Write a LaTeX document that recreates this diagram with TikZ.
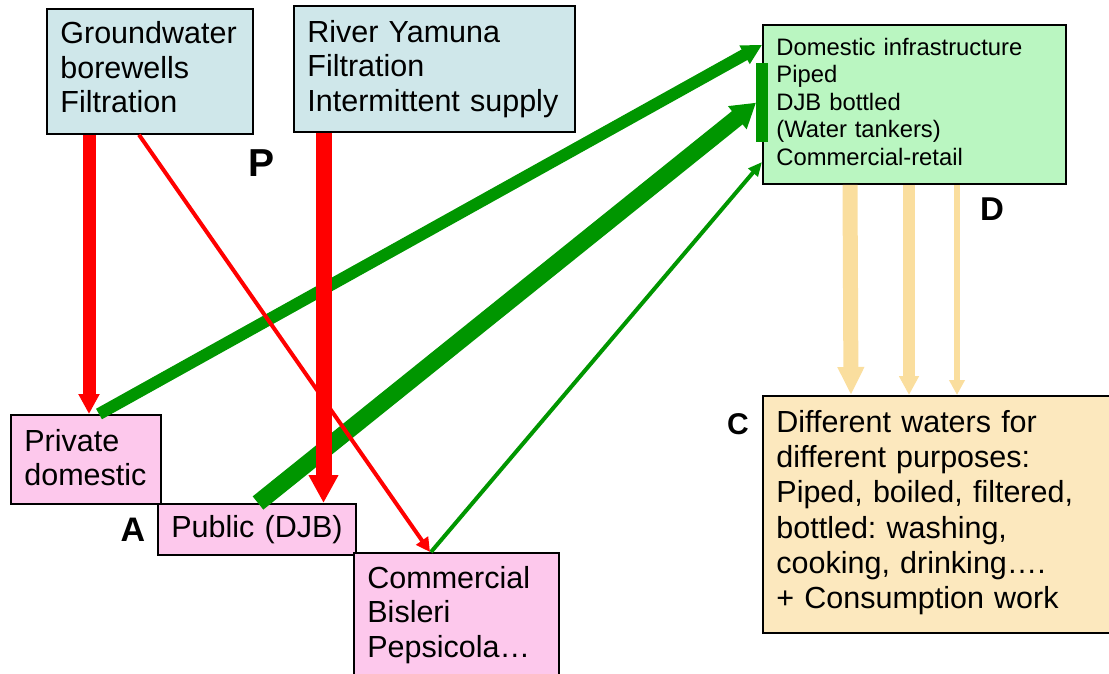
\documentclass[tikz,border=0pt]{standalone}
\usepackage{fontspec}
\setmainfont{Liberation Sans}
\usetikzlibrary{arrows.meta,calc}

\definecolor{srcblue}{RGB}{207,231,234}
\definecolor{distgreen}{RGB}{186,246,193}
\definecolor{agentpink}{RGB}{253,200,236}
\definecolor{usewheat}{RGB}{252,232,190}
\definecolor{flowred}{RGB}{255,0,0}
\definecolor{flowgreen}{RGB}{0,150,0}
\definecolor{flowwheat}{RGB}{250,222,158}

% extra depth under a last line, to lift a text block inside its box
\newcommand\liftby[1]{\rule[-#1]{0pt}{#1}}

\begin{document}
\frenchspacing
\begin{tikzpicture}[x=1pt,y=-1pt,
  box/.style={draw=black,line width=1.8pt,anchor=north west,
    inner xsep=13.5pt,inner ysep=0pt,align=left,
    font=\fontsize{30.5}{34.5}\selectfont},
  letter/.style={font=\bfseries\fontsize{#1}{#1}\selectfont,inner sep=0pt},
  redflow/.style 2 args={draw=flowred,line width=#1,
    -{Triangle[width=#2,length=#2]}},
  greenflow/.style n args={3}{draw=flowgreen,line width=#1,
    -{Triangle[width=#2,length=#3]}},
  wheatflow/.style n args={3}{draw=flowwheat,line width=#1,
    -{Triangle[width=#2,length=#3]}}]
\clip (0,0) rectangle (1109,674);

% sources
\node[box,fill=srcblue,minimum width=206pt,minimum height=125pt,text width=179pt]
  (gw) at (46,8) {Groundwater\\borewells\\Filtration\liftby{8pt}};
\node[box,fill=srcblue,minimum width=281pt,minimum height=126pt,text width=254pt]
  (ry) at (293,5) {River Yamuna\\Filtration\\Intermittent supply};

% distribution
\node[box,fill=distgreen,minimum width=303pt,minimum height=159pt,text width=276pt,
  font=\fontsize{23.8}{27.5}\selectfont]
  (dist) at (762,24) {Domestic infrastructure\\Piped\\DJB bottled\\(Water tankers)\\Commercial-retail\liftby{6pt}};
\node[fill=flowgreen,inner sep=0pt,minimum width=12pt,minimum height=79pt,anchor=north west]
  (bar) at (756,63) {};

% agents
\node[box,fill=agentpink,minimum width=150pt,minimum height=89pt,text width=123pt]
  (priv) at (10,414) {Private\\domestic\liftby{4pt}};
\node[box,fill=agentpink,minimum width=198pt,minimum height=51pt,text width=171pt]
  (pub) at (157,503) {\mbox{Public (DJB)}};
\node[box,fill=agentpink,minimum width=205pt,minimum height=124pt,text width=178pt]
  (comm) at (353,552) {Commercial\\Bisleri\\Pepsicola…};

% consumption
\node[box,fill=usewheat,minimum width=358pt,minimum height=237pt,text width=331pt,
  font=\fontsize{30.5}{35.3}\selectfont]
  (cons) at (762,395) {Different waters for\\different purposes:\\Piped, boiled, filtered,\\bottled: washing,\\cooking, drinking….\\+ Consumption work\liftby{10pt}};

% letters
\node[letter=39] (lP) at (262,163) {P};
\node[letter=33] (lD) at (992,209) {D};
\node[letter=30] (lC) at (738,424) {C};
\node[letter=34] (lA) at (133,530) {A};

% green flows into distribution
\draw[greenflow={12pt}{20pt}{20pt}] ([xshift=89]priv.north west) -- ([yshift=-21]dist.north west);
\draw[greenflow={17pt}{28pt}{24pt}] ([xshift=101]pub.north west) -- (bar.west);
\draw[greenflow={4pt}{12pt}{14pt}] ([xshift=78]comm.north west) -- ([yshift=-138]dist.north west);

% red flows from sources
\draw[redflow={13pt}{20pt}] ([xshift=43]gw.south west) -- ([xshift=79]priv.north west);
\draw[redflow={16pt}{28pt}] ([xshift=30.5]ry.south west) -- ([xshift=166.5]pub.north west);
\draw[redflow={4pt}{14pt}] ([xshift=93]gw.south west) -- ([xshift=77]comm.north west);

% distribution to consumption
\draw[wheatflow={15pt}{25pt}{28pt}] ([xshift=88]dist.south west) -- ([xshift=89]cons.north west);
\draw[wheatflow={12pt}{19pt}{19pt}] ([xshift=147]dist.south west) -- ([xshift=147]cons.north west);
\draw[wheatflow={6pt}{15pt}{15pt}] ([xshift=195]dist.south west) -- ([xshift=195]cons.north west);
\end{tikzpicture}
\end{document}
